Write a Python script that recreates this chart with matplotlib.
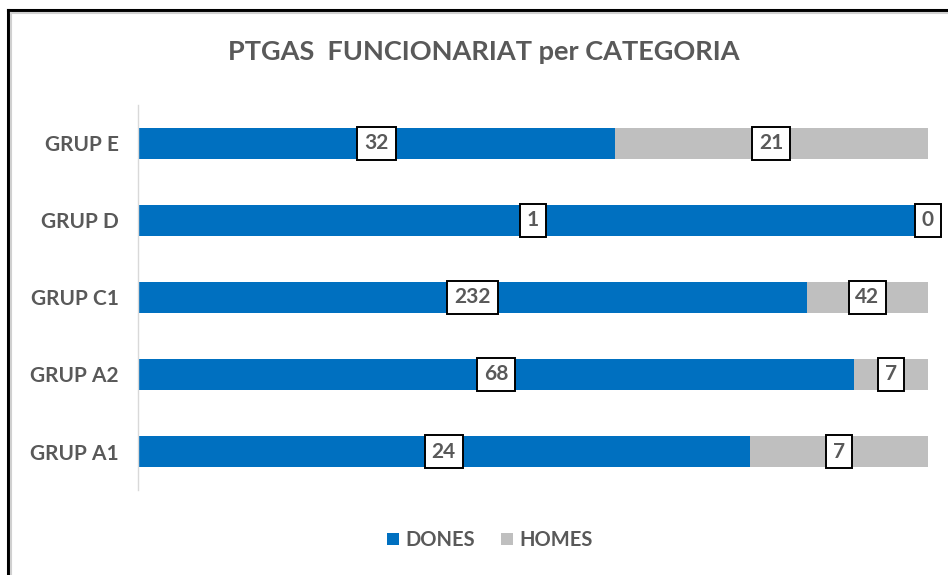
import matplotlib
matplotlib.use("Agg")
import matplotlib.pyplot as plt
from matplotlib.lines import Line2D

categories = ["GRUP A1", "GRUP A2", "GRUP C1", "GRUP D", "GRUP E"]
dones = [24, 68, 232, 1, 32]
homes = [7, 7, 42, 0, 21]
series_names = ["DONES", "HOMES"]
title = "PTGAS  FUNCIONARIAT per CATEGORIA"

blue = "#0070C0"
grey = "#BFBFBF"
txt = "#595959"
font = "Lato"

W, H = 948, 575
fig = plt.figure(figsize=(W / 100, H / 100), dpi=100)
ax = fig.add_axes([138 / W, 1 - 490 / H, (928 - 138) / W, (490 - 105) / H])

totals = [d + h for d, h in zip(dones, homes)]
pd_ = [d / t for d, t in zip(dones, totals)]
ph_ = [h / t for h, t in zip(homes, totals)]
y = list(range(len(categories)))
bh = 0.41
ax.barh(y, pd_, height=bh, color=blue, label=series_names[0])
ax.barh(y, ph_, left=pd_, height=bh, color=grey, label=series_names[1])

box = dict(boxstyle="square,pad=0.33", fc="white", ec="black", lw=1.4)
for i in y:
    ax.text(pd_[i] / 2, i, str(dones[i]), ha="center", va="center",
            fontsize=15, fontweight="bold", color=txt, family=font, bbox=box)
    ax.text(pd_[i] + ph_[i] / 2, i, str(homes[i]), ha="center", va="center",
            fontsize=15, fontweight="bold", color=txt, family=font, bbox=box,
            clip_on=False)

ax.set_xlim(0, 1)
ax.set_ylim(-0.5, len(categories) - 0.5)
ax.set_yticks(y)
ax.set_yticklabels(categories, fontsize=15, fontweight="bold", color=txt, family=font)
ax.tick_params(axis="y", length=0, pad=14)
ax.set_xticks([])
for s in ["top", "right", "bottom"]:
    ax.spines[s].set_visible(False)
ax.spines["left"].set_color("#D9D9D9")
ax.spines["left"].set_linewidth(1)

fig.text(484 / W, 1 - 52 / H, title, ha="center", va="center",
         fontsize=19.5, fontweight="bold", color=txt, family=font)

leg = fig.legend(loc="center", bbox_to_anchor=(490 / W, 1 - 540 / H), ncol=2,
                 frameon=False, handlelength=0.6, handleheight=0.6,
                 handletextpad=0.3, columnspacing=1.3,
                 prop=dict(family=font, size=14.5, weight="bold"))
for t in leg.get_texts():
    t.set_color(txt)

# outer frame (black top/left, light grey inner)
fig.add_artist(Line2D([8 / W, 1], [1 - 10 / H, 1 - 10 / H], color="black", lw=2.2,
                      transform=fig.transFigure))
fig.add_artist(Line2D([8 / W, 8 / W], [0, 1 - 10 / H], color="black", lw=2.2,
                      transform=fig.transFigure))
fig.add_artist(Line2D([11 / W, 1], [1 - 13 / H, 1 - 13 / H], color="#D0D0D0", lw=1.5,
                      transform=fig.transFigure))
fig.add_artist(Line2D([11 / W, 11 / W], [0, 1 - 13 / H], color="#D0D0D0", lw=1.5,
                      transform=fig.transFigure))

fig.savefig("out.png", dpi=100)
